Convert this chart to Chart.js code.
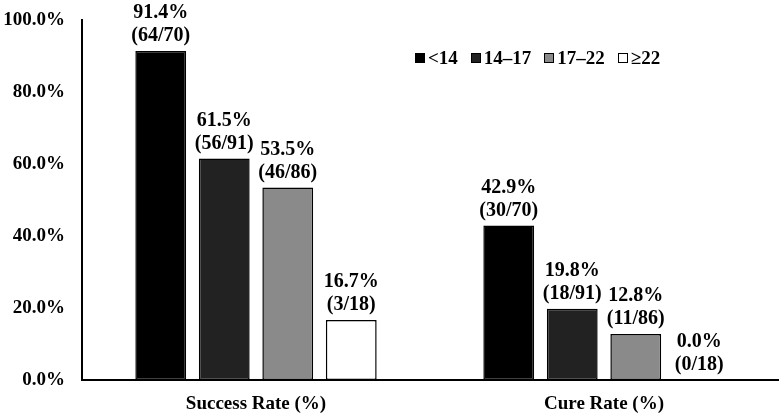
<!DOCTYPE html>
<html>
<head>
<meta charset="utf-8">
<script src="https://cdn.jsdelivr.net/npm/chart.js@4.4.0/dist/chart.umd.min.js"></script>
<style>
  html, body { margin: 0; padding: 0; background: #fff; }
  #wrap { position: relative; width: 784px; height: 418px; }
  #legend {
    position: absolute; left: 415px; top: 47px;
    font: bold 19px "Liberation Serif", "Times New Roman", serif;
    display: flex; gap: 13px; white-space: nowrap; line-height: 22px;
  }
  #legend span.item { display: flex; align-items: center; }
  #legend span.box {
    display: inline-block; width: 10px; height: 10px;
    border: 1.5px solid #000; margin-right: 3px; box-sizing: border-box;
  }
</style>
</head>
<body>
<div id="wrap">
  <canvas id="chart" width="784" height="418"></canvas>
  <div id="legend"></div>
</div>
<script>
// Data
const categories = ['Success Rate (%)', 'Cure Rate (%)'];
const groups = ['<14', '14\u201317', '17\u201322', '\u226522'];
const successRate = [91.4, 61.5, 53.5, 16.7];
const cureRate = [42.9, 19.8, 12.8, 0.0];
const successCount = [64, 56, 46, 3];
const cureCount = [30, 18, 11, 0];
const groupTotal = [70, 91, 86, 18];
const yTicks = [0, 20, 40, 60, 80, 100];

const colors = ['#000000', '#222222', '#8a8a8a', '#ffffff'];
const font = 'Liberation Serif, Times New Roman, serif';

const datasets = groups.map((g, i) => ({
  label: g,
  data: [successRate[i], cureRate[i]],
  counts: [successCount[i], cureCount[i]],
  backgroundColor: colors[i],
  borderColor: '#000',
  borderWidth: 1.5,
  borderSkipped: false,
  categoryPercentage: 0.73,
  barPercentage: 0.8
}));

// Two-line value labels above each bar
const barLabels = {
  id: 'barLabels',
  afterDatasetsDraw(chart) {
    const ctx = chart.ctx;
    ctx.save();
    ctx.fillStyle = '#000';
    ctx.textAlign = 'center';
    ctx.textBaseline = 'middle';
    ctx.font = 'bold 20px ' + font;
    chart.data.datasets.forEach((ds, di) => {
      chart.getDatasetMeta(di).data.forEach((bar, j) => {
        const pct = ds.data[j].toFixed(1) + '%';
        const frac = '(' + ds.counts[j] + '/' + groupTotal[di] + ')';
        ctx.fillText(frac, bar.x, bar.y - 15);
        ctx.fillText(pct, bar.x, bar.y - 38);
      });
    });
    ctx.restore();
  }
};

const chart = new Chart(document.getElementById('chart'), {
  type: 'bar',
  data: { labels: categories, datasets: datasets },
  options: {
    responsive: false,
    animation: false,
    layout: { padding: { top: 20, right: 6, left: 4, bottom: 0 } },
    plugins: {
      legend: { display: false },
      tooltip: { enabled: false }
    },
    scales: {
      x: {
        afterFit: axis => { axis.height = 38; axis.paddingLeft = 0; axis.paddingRight = 0; },
        grid: { display: false, drawTicks: false },
        border: { display: true, color: '#000', width: 2 },
        ticks: { color: '#000', font: { family: font, size: 19, weight: 'bold' }, padding: 13 }
      },
      y: {
        min: 0,
        max: 100,
        afterBuildTicks: axis => { axis.ticks = yTicks.map(v => ({ value: v })); },
        afterFit: axis => { axis.width = 78; axis.paddingTop = 0; axis.paddingBottom = 0; },
        grid: { display: false, drawTicks: false },
        border: { display: true, color: '#000', width: 2 },
        ticks: {
          color: '#000',
          padding: 17,
          font: { family: font, size: 19, weight: 'bold' },
          callback: v => v.toFixed(1) + '%'
        }
      }
    }
  },
  plugins: [barLabels]
});

// HTML legend built from the datasets
const legend = document.getElementById('legend');
chart.data.datasets.forEach(ds => {
  const item = document.createElement('span');
  item.className = 'item';
  const box = document.createElement('span');
  box.className = 'box';
  box.style.background = ds.backgroundColor;
  item.appendChild(box);
  item.appendChild(document.createTextNode(ds.label));
  legend.appendChild(item);
});
</script>
</body>
</html>
